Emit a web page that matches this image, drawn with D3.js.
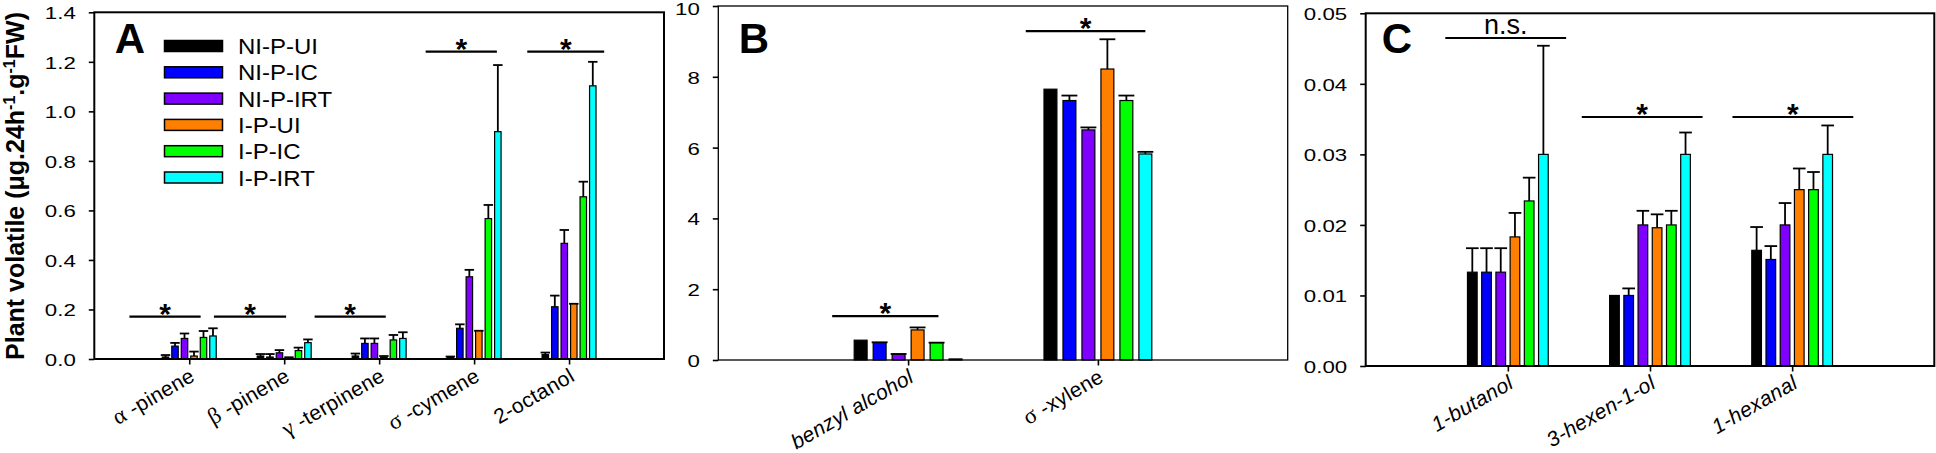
<!DOCTYPE html>
<html><head><meta charset="utf-8">
<script src="https://cdn.jsdelivr.net/npm/d3@7"></script>
<style>body{margin:0;background:#fff} svg{display:block}</style>
</head><body><svg id="c" width="1936" height="453"></svg>
<script>
// ---------- DATA ----------
const seriesNames = ["NI-P-UI","NI-P-IC","NI-P-IRT","I-P-UI","I-P-IC","I-P-IRT"];
const seriesColors = ["#000000","#0000ff","#8000ff","#ff8000","#00ff00","#00ffff"];

const catsA = ["α -pinene","β -pinene","γ -terpinene","σ -cymene","2-octanol"];
const meansA = [
  [0.008, 0.012, 0.012, 0.008, 0.018],
  [0.052, 0.008, 0.063, 0.124, 0.211],
  [0.083, 0.025, 0.063, 0.332, 0.467],
  [0.012, 0.005, 0.006, 0.113, 0.222],
  [0.087, 0.034, 0.077, 0.567, 0.655],
  [0.093, 0.066, 0.083, 0.918, 1.103]
];
const errsA = [
  [0.008, 0.008, 0.010, 0.002, 0.008],
  [0.013, 0.012, 0.020, 0.016, 0.045],
  [0.020, 0.011, 0.020, 0.028, 0.054],
  [0.018, 0.002, 0.006, 0.001, 0.001],
  [0.026, 0.012, 0.020, 0.055, 0.061],
  [0.031, 0.013, 0.025, 0.269, 0.097]
];
const ticksA = [0.0,0.2,0.4,0.6,0.8,1.0,1.2,1.4];
const sigA = [
  {x0:0.37, x1:1.12, y:0.171, label:"*"},
  {x0:1.26, x1:2.02, y:0.171, label:"*"},
  {x0:2.32, x1:3.07, y:0.171, label:"*"},
  {x0:3.49, x1:4.24, y:1.241, label:"*"},
  {x0:4.56, x1:5.37, y:1.241, label:"*"}
];

const catsB = ["benzyl alcohol","σ -xylene"];
const meansB = [
  [0.56, 7.65],
  [0.49, 7.33],
  [0.16, 6.50],
  [0.85, 8.22],
  [0.48, 7.33],
  [0.03, 5.82]
];
const errsB = [
  [0.00, 0.00],
  [0.01, 0.14],
  [0.01, 0.07],
  [0.07, 0.84],
  [0.01, 0.14],
  [0.00, 0.06]
];
const ticksB = [0,2,4,6,8,10];
const sigB = [
  {x0:0.60, x1:1.16, y:1.24, label:"*"},
  {x0:1.62, x1:2.25, y:9.29, label:"*"}
];

const catsC = ["1-butanol","3-hexen-1-ol","1-hexanal"];
const meansC = [
  [0.0133, 0.0100, 0.0164],
  [0.0133, 0.0100, 0.0151],
  [0.0133, 0.0200, 0.0200],
  [0.0183, 0.0196, 0.0250],
  [0.0234, 0.0200, 0.0250],
  [0.0300, 0.0300, 0.0300]
];
const errsC = [
  [0.0034, 0.0000, 0.0033],
  [0.0034, 0.0010, 0.0019],
  [0.0034, 0.0020, 0.0031],
  [0.0034, 0.0019, 0.0030],
  [0.0033, 0.0020, 0.0025],
  [0.0154, 0.0031, 0.0041]
];
const ticksC = [0.00,0.01,0.02,0.03,0.04,0.05];
const sigC = [
  {x0:0.56, x1:1.41, y:0.0465, label:"n.s."},
  {x0:1.52, x1:2.37, y:0.0353, label:"*"},
  {x0:2.58, x1:3.43, y:0.0353, label:"*"}
];

// ---------- DRAWING ----------
const svg = d3.select("#c");
const FONT = "'Liberation Sans', Arial, Helvetica, sans-serif";

function drawPanel(cfg, cats, means, errs, ticks, sigs) {
  const g = svg.append("g");
  const n = cats.length;
  const xs = d3.scaleLinear().domain([0, n + 1]).range([cfg.left, cfg.right]);
  const ys = d3.scaleLinear().domain([0, cfg.yMax]).range([cfg.bottom, cfg.top]);
  const unit = xs(1) - xs(0);
  const bw = unit * 0.068;

  const flat = [];
  means.forEach((vals, si) => vals.forEach((v, ci) => flat.push({si, ci, v, e: errs[si][ci]})));
  const cx = d => xs(d.ci + 1 + (d.si - 2.5) * 0.1);

  // error bars
  const eb = g.append("g").attr("stroke", "#000").attr("stroke-width", 1.8).attr("fill", "none");
  eb.selectAll("line.v").data(flat.filter(d => d.e > 0)).join("line")
    .attr("x1", cx).attr("x2", cx)
    .attr("y1", d => ys(d.v)).attr("y2", d => ys(d.v + d.e));
  eb.selectAll("line.c").data(flat.filter(d => d.e > 0)).join("line").attr("class","c")
    .attr("x1", d => cx(d) - bw / 2 - 1.5).attr("x2", d => cx(d) + bw / 2 + 1.5)
    .attr("y1", d => ys(d.v + d.e)).attr("y2", d => ys(d.v + d.e));

  // bars
  g.append("g").selectAll("rect").data(flat).join("rect")
    .attr("x", d => cx(d) - bw / 2).attr("y", d => ys(d.v))
    .attr("width", bw).attr("height", d => ys(0) - ys(d.v))
    .attr("fill", d => seriesColors[d.si]).attr("stroke", "#000").attr("stroke-width", 1.2);

  // y axis
  const ya = g.append("g").attr("transform", `translate(${cfg.left},0)`)
    .call(d3.axisLeft(ys).tickValues(ticks).tickFormat(d3.format(cfg.fmt)).tickSize(5.5));
  ya.select(".domain").remove();
  ya.selectAll(".tick line").attr("stroke-width", 1.6);
  ya.selectAll(".tick text").attr("x", 0).attr("dy", "0.36em")
    .attr("transform", d => `translate(-18.5,${d === cfg.yMax ? cfg.topShift || 0.5 : 0.5}) scale(1.35,1)`)
    .style("font-family", FONT).style("font-size", "16.5px").attr("fill", "#000");

  // x axis
  const xa = g.append("g").attr("transform", `translate(0,${cfg.bottom})`)
    .call(d3.axisBottom(xs).tickValues(d3.range(1, n + 1)).tickFormat("").tickSize(5.5));
  xa.select(".domain").remove();
  xa.selectAll(".tick line").attr("stroke-width", 1.6);

  // category labels (rotated)
  cats.forEach((c, i) => {
    const t = g.append("text")
      .attr("x", 0).attr("y", 0)
      .attr("transform", `translate(${xs(i + 1) + 7},${cfg.bottom + 21}) rotate(-30)`)
      .attr("text-anchor", "end").style("font-family", FONT).style("font-size", "21px")
      .style("letter-spacing", "0.3px")
      .style("font-style", cfg.italic && cfg.italic.includes(i) ? "italic" : "normal");
    if (/^[α-ω]/.test(c)) {
      t.append("tspan").style("font-family", "'Liberation Serif','Times New Roman',serif").style("font-size", "23px").text(c[0]);
      t.append("tspan").text(c.slice(1));
    } else t.text(c);
  });

  // frame
  g.append("rect").attr("x", cfg.left).attr("y", cfg.top)
    .attr("width", cfg.right - cfg.left).attr("height", cfg.bottom - cfg.top)
    .attr("fill", "none").attr("stroke", "#000").attr("stroke-width", cfg.lw);

  // significance
  sigs.forEach(s => {
    g.append("line").attr("x1", xs(s.x0)).attr("x2", xs(s.x1))
      .attr("y1", ys(s.y)).attr("y2", ys(s.y)).attr("stroke", "#000").attr("stroke-width", 2.2);
    const mx = (xs(s.x0) + xs(s.x1)) / 2;
    if (s.label === "*") {
      g.append("text").attr("x", mx).attr("y", ys(s.y) + 7).attr("text-anchor", "middle")
        .style("font-family", FONT).style("font-weight", "bold").style("font-size", "30px").text(s.label);
    } else {
      g.append("text").attr("x", mx).attr("y", ys(s.y) - 4).attr("text-anchor", "middle")
        .style("font-family", FONT).style("font-size", "27px").text(s.label);
    }
  });

  // panel letter
  g.append("text").attr("x", cfg.left + cfg.letterDx).attr("y", 53)
    .style("font-family", FONT).style("font-weight", "bold").style("font-size", "42px").text(cfg.letter);
  return g;
}

drawPanel({left:94.3, right:664, top:12.3, bottom:359, yMax:1.4, fmt:".1f", lw:2, letter:"A", letterDx:20.5},
  catsA, meansA, errsA, ticksA, sigA);
drawPanel({left:718.3, right:1287.7, top:6, bottom:360, yMax:10, fmt:"d", lw:1.3, letter:"B", letterDx:20.5, italic:[0], topShift:3},
  catsB, meansB, errsB, ticksB, sigB);
drawPanel({left:1365.7, right:1934.3, top:13.3, bottom:366, yMax:0.05, fmt:".2f", lw:2, letter:"C", letterDx:16, italic:[0,1,2]},
  catsC, meansC, errsC, ticksC, sigC);

// legend (panel A)
const leg = svg.append("g");
seriesNames.forEach((name, i) => {
  const cy = 46 + i * 26.3;
  leg.append("rect").attr("x", 164.5).attr("y", cy - 5.5).attr("width", 58).attr("height", 11)
    .attr("fill", seriesColors[i]).attr("stroke", "#000").attr("stroke-width", 1.5);
  leg.append("text").attr("transform", `translate(238,${cy + 8}) scale(1.09,1)`)
    .style("font-family", FONT).style("font-size", "22px").text(name);
});

// y axis title
const yt = svg.append("text").attr("transform", "translate(24,186) rotate(-90)")
  .attr("text-anchor", "middle").style("font-family", FONT).style("font-weight", "bold").style("font-size", "25px");
yt.append("tspan").text("Plant volatile (μg.24h");
yt.append("tspan").attr("dy", -9).style("font-size", "16px").text("-1");
yt.append("tspan").attr("dy", 9).text(".g");
yt.append("tspan").attr("dy", -9).style("font-size", "16px").text("-1");
yt.append("tspan").attr("dy", 9).text("FW)");
</script></body></html>
